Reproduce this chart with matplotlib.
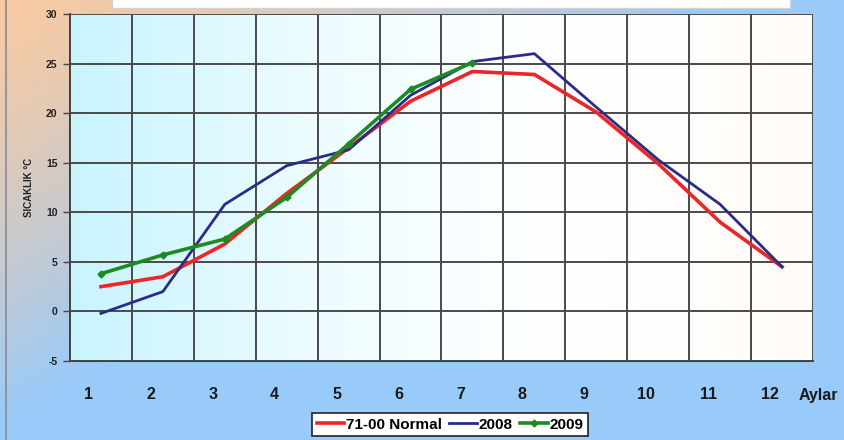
import numpy as np
import matplotlib.pyplot as plt
from matplotlib.patches import Rectangle
from matplotlib.colors import LinearSegmentedColormap
import matplotlib.transforms as mtransforms

plt.rcParams['font.family'] = ['Liberation Sans', 'DejaVu Sans']

# monthly mean temperatures (deg C)
months = [1, 2, 3, 4, 5, 6, 7, 8, 9, 10, 11, 12]
normal_7100 = [2.5, 3.5, 6.8, 11.9, 16.5, 21.2, 24.2, 23.9, 20.1, 14.9, 9.0, 4.5]
y2008 = [-0.2, 2.0, 10.8, 14.7, 16.3, 21.8, 25.2, 26.0, 20.6, 15.3, 10.8, 4.5]
y2009 = [3.8, 5.7, 7.3, 11.5, 16.9, 22.4, 25.1]
series_names = ['71-00 Normal', '2008', '2009']
yticks = [-5, 0, 5, 10, 15, 20, 25, 30]

W, H = 845, 440
fig = plt.figure(figsize=(W / 100, H / 100), dpi=100)

# background gradient: peach top-left -> light blue
bg = fig.add_axes([0, 0, 1, 1], zorder=-10)
xx, yy = np.meshgrid(np.linspace(0, W, 200), np.linspace(0, H, 120))
t = np.clip(xx / 720 + yy / 430, 0, 1) ** 1.3
peach = np.array([248, 202, 162]) / 255
blue = np.array([152, 202, 250]) / 255
img = peach[None, None, :] * (1 - t[..., None]) + blue[None, None, :] * t[..., None]
bg.imshow(img, extent=[0, W, H, 0], aspect='auto')
bg.set_xlim(0, W)
bg.set_ylim(H, 0)
bg.axis('off')
bg.plot([6, 6], [0, H], color='#8a8a9a', lw=1.2)
# white title box (cut off at the top)
bg.add_patch(Rectangle((112, -5), 678, 13, facecolor='white', edgecolor='#d8d0d0', lw=1))

ax = fig.add_axes([70 / W, 1 - 361 / H, (813 - 70) / W, (361 - 14) / H])
ax.set_xlim(0.5, 12.5)
ax.set_ylim(-5, 30)

# plot area gradient: light cyan -> white
cmap = LinearSegmentedColormap.from_list('pa', ['#c8f4fe', '#eefcff', '#ffffff', '#fffcf8'])
grad = np.linspace(0, 1, 256)[None, :]
ax.imshow(grad, extent=[0.5, 12.5, -5, 30], aspect='auto', cmap=cmap, zorder=0)

ax.plot(months, normal_7100, color='#f02424', lw=2.6, label=series_names[0], zorder=3)
ax.plot(months, y2008, color='#2b2b8c', lw=2.0, label=series_names[1], zorder=4)
ax.plot(months[:len(y2009)], y2009, color='#1c8c22', lw=2.6, marker='D', ms=3.5,
        label=series_names[2], zorder=5)

# grid on category boundaries
ax.set_xticks(np.arange(0.5, 13, 1), minor=True)
ax.set_xticks(months)
ax.set_xticklabels([str(m) for m in months], fontsize=11.5, fontweight='bold', color='#1a1a1a')
ax.tick_params(axis='x', which='both', length=0, pad=19)
for lbl in ax.get_xticklabels():
    lbl.set_transform(lbl.get_transform() + mtransforms.ScaledTranslation(-0.12, 0, fig.dpi_scale_trans))
ax.grid(True, which='minor', axis='x', color='#4a4a4a', lw=1.4, zorder=1)
ax.set_yticks(yticks)
ax.set_yticklabels([str(v) for v in yticks], fontsize=7.5, fontweight='bold', color='#222222')
ax.tick_params(axis='y', length=5, width=1, color='#444444', pad=4)
ax.grid(True, which='major', axis='y', color='#4a4a4a', lw=1.4, zorder=1)
ax.set_axisbelow(False)
for s in ['top', 'right']:
    ax.spines[s].set_visible(False)
for s in ['left', 'bottom']:
    ax.spines[s].set_color('#3a3a4a')
    ax.spines[s].set_linewidth(1.4)

ax.set_ylabel('SICAKLIK °C', fontsize=7, fontweight='bold', color='#222222', labelpad=9)
fig.text(818 / W, 1 - 395 / H, 'Aylar', fontsize=11.5, fontweight='bold', color='#1a1a1a',
         ha='center', va='center')

leg = fig.legend(loc='upper center', bbox_to_anchor=(450 / W, 1 - 413 / H), ncol=3,
                 frameon=True, fancybox=False, prop={'weight': 'bold', 'size': 11},
                 handlelength=1.8, handletextpad=0.1, columnspacing=0.5,
                 borderpad=0.3, borderaxespad=0)
leg.get_frame().set_edgecolor('#222222')
leg.get_frame().set_linewidth(1.2)
leg.get_frame().set_facecolor('white')
leg.get_frame().set_alpha(1)

fig.savefig('out.png', dpi=100)
